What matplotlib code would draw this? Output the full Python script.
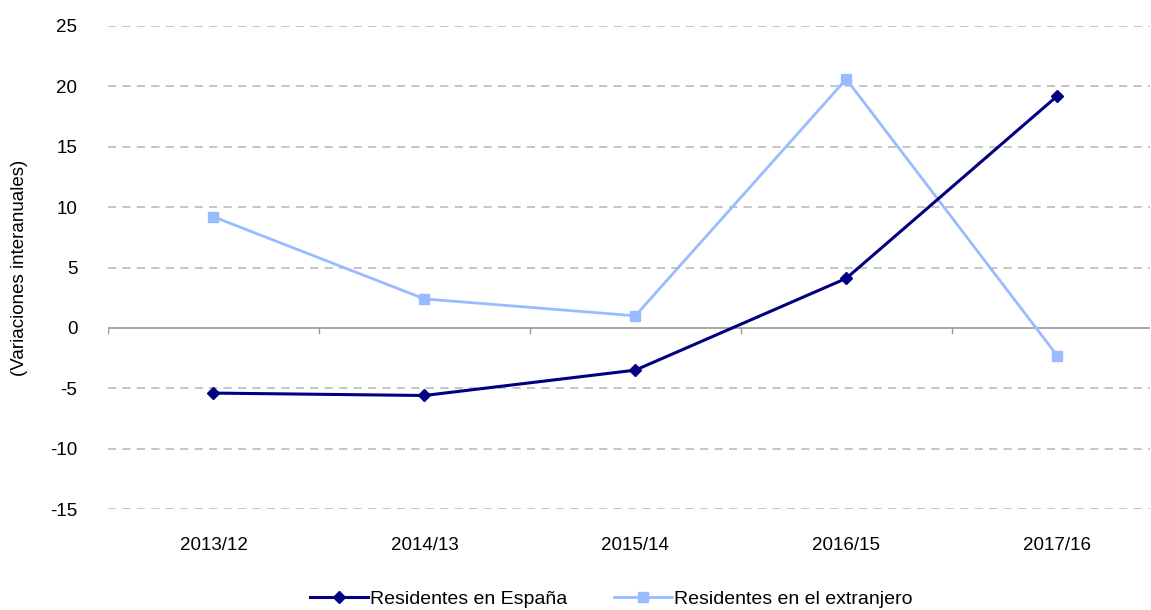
import numpy as np
import matplotlib
matplotlib.use('Agg')
import matplotlib.pyplot as plt

plt.rcParams['font.family'] = ['Liberation Sans', 'DejaVu Sans']
plt.rcParams['axes.unicode_minus'] = False

# data
periods = ['2013/12', '2014/13', '2015/14', '2016/15', '2017/16']
espana = [-5.4, -5.6, -3.5, 4.1, 19.2]
extranjero = [9.2, 2.4, 1.0, 20.6, -2.3]

fig = plt.figure(figsize=(11.51, 6.10), dpi=100)
ax = fig.add_axes([108/1151, 1 - 509/610, (1150 - 108)/1151, (509 - 26)/610])

x = np.arange(len(periods))

# grid lines (dashed) except zero
for v in [-15, -10, -5, 5, 10, 15, 20, 25]:
    ax.axhline(v, color='#c0c0c0', lw=1.3, ls=(0, (4.5, 3.5)), zorder=0)
ax.axhline(0, color='#999999', lw=1.2, zorder=1)

ax.plot(x, extranjero, color='#99bbff', lw=2, marker='s', ms=7,
        label='Residentes en el extranjero', zorder=3)
ax.plot(x, espana, color='#000080', lw=2.2, marker='D', ms=6,
        label='Residentes en España', zorder=4)

ax.set_xlim(-0.5, 4.44)
ax.set_ylim(-15, 25)
ax.set_yticks(range(-15, 30, 5))
ax.set_xticks(x)
ax.set_xticklabels(periods)
ax.tick_params(axis='both', length=0, labelsize=13.5, colors='black')
ax.tick_params(axis='y', pad=22)
ax.tick_params(axis='x', pad=20)

# category boundary tick marks hanging from the zero line
for b in np.arange(-0.5, 4.5, 1.0):
    ax.plot([b, b], [0, -0.42], color='#999999', lw=1, zorder=1)

for s in ax.spines.values():
    s.set_visible(False)

ax.set_ylabel('(Variaciones interanuales)', fontsize=13.5)
ax.yaxis.set_label_coords(-0.077, 0.5)

h, l = ax.get_legend_handles_labels()
fig.legend(h[::-1], l[::-1], loc='lower center', ncol=2, frameon=False,
           bbox_to_anchor=(0.531, -0.025), fontsize=14, handlelength=3.0,
           columnspacing=2.4, handletextpad=0.1)

fig.savefig('out.png', dpi=100)
